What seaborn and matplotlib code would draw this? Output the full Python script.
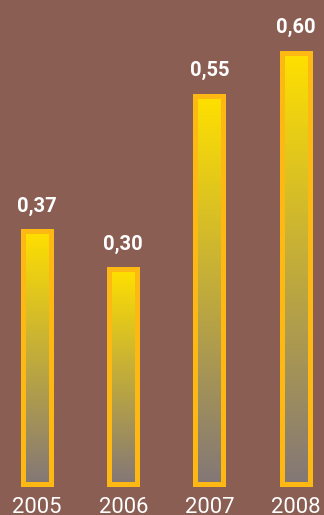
import numpy as np
import matplotlib
matplotlib.use("Agg")
import matplotlib.pyplot as plt
import matplotlib.transforms as mtransforms
from matplotlib.colors import LinearSegmentedColormap
import seaborn as sns
import pandas as pd

# ---- data ----
years = ["2005", "2006", "2007", "2008"]
bar_heights = [0.351, 0.298, 0.540, 0.60]
value_labels = ["0,37", "0,30", "0,55", "0,60"]

BG = "#8B5E53"
EDGE = "#FDB813"
TOP = "#FFE000"
BOTTOM = "#837777"

sns.set_theme(style="white")
plt.rcParams["font.family"] = ["Roboto", "DejaVu Sans"]

fig = plt.figure(figsize=(3.24, 5.15), dpi=100, facecolor=BG)
ax = fig.add_axes([0, 0, 1, 1])
ax.set_facecolor(BG)

df = pd.DataFrame({"year": years, "value": bar_heights})
sns.barplot(data=df, x="year", y="value", order=years, width=0.325,
            color=BG, edgecolor=EDGE, linewidth=3.6, ax=ax, zorder=3)

cmap = LinearSegmentedColormap.from_list("grad", [BOTTOM, TOP])
grad = np.linspace(0, 1, 256).reshape(-1, 1)
for i, p in enumerate(ax.patches):
    p.set_facecolor("none")
    p.set_zorder(3)
    x0, y0 = p.get_x(), p.get_y()
    w, h = p.get_width(), p.get_height()
    im = ax.imshow(grad, cmap=cmap, origin="lower", aspect="auto",
                   extent=(x0, x0 + w, y0, y0 + h), zorder=2,
                   interpolation="bilinear")
    im.set_clip_path(p)
    ax.annotate(value_labels[i], xy=(x0 + w / 2, y0 + h), xytext=(0, 14),
                textcoords="offset points", ha="center", va="baseline",
                color="white", fontsize=14.5, fontweight="bold",
                family=["Roboto", "DejaVu Sans"])

trans = mtransforms.blended_transform_factory(ax.transData, fig.transFigure)
for i, yr in enumerate(years):
    ax.text(i, 2.4 / 515, yr, transform=trans, ha="center", va="baseline",
            color="white", fontsize=15.8, family=["Roboto", "DejaVu Sans"])

ax.set_xlim(-0.4292, 3.3295)
ax.set_ylim(-0.04385, 0.6731)
ax.set_xlabel("")
ax.set_ylabel("")
ax.set_xticks([])
ax.set_yticks([])
for s in ax.spines.values():
    s.set_visible(False)

fig.savefig("out.png", dpi=100, facecolor=BG)
